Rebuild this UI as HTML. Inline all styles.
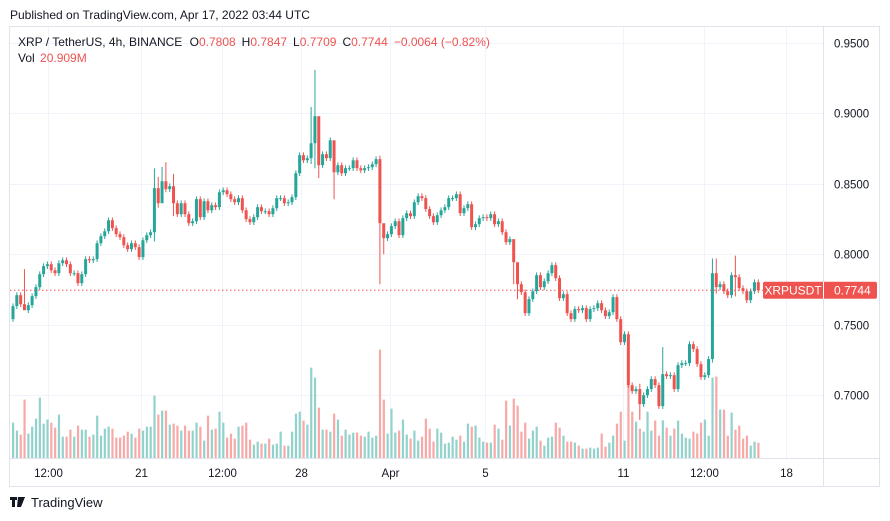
<!DOCTYPE html>
<html><head><meta charset="utf-8"><style>
body{margin:0;background:#fff;width:890px;height:521px;overflow:hidden;font-family:"Liberation Sans",sans-serif;}
svg{position:absolute;left:0;top:0}
</style></head><body>
<svg id="c" width="890" height="521" xmlns="http://www.w3.org/2000/svg">
<text x="10" y="19" font-size="12" fill="#131722">Published on TradingView.com, Apr 17, 2022 03:44 UTC</text>
<rect x="9.5" y="26.5" width="870" height="460" fill="none" stroke="#e0e3eb"/>
<line x1="823.5" y1="27" x2="823.5" y2="486" stroke="#e0e3eb"/>
<line x1="10" y1="458.5" x2="879" y2="458.5" stroke="#e0e3eb"/>
<g id="grid"></g><g id="vol"></g><g id="candles"></g><g id="axes"></g>
<g font-size="12">
<text x="18" y="46" fill="#131722">XRP / TetherUS, 4h, BINANCE <tspan dx="4">O</tspan><tspan fill="#ef5350">0.7808</tspan><tspan dx="6">H</tspan><tspan fill="#ef5350">0.7847</tspan><tspan dx="6">L</tspan><tspan fill="#ef5350">0.7709</tspan><tspan dx="6">C</tspan><tspan fill="#ef5350">0.7744</tspan><tspan dx="6" fill="#ef5350">−0.0064 (−0.82%)</tspan></text>
<text x="18" y="62" fill="#131722">Vol <tspan dx="2" fill="#ef5350">20.909M</tspan></text>
</g>
<g>
<rect x="10" y="497" width="7" height="3" fill="#131722"/><rect x="12" y="497" width="3" height="10" fill="#131722"/>
<polygon points="18,497 25,497 21,507 17,507" fill="#131722"/>
<text x="31" y="507" font-size="13" fill="#131722">TradingView</text>
</g>
</svg>
<script>
const closes=[0.7631,0.7709,0.7645,0.7602,0.7638,0.7702,0.7766,0.7858,0.7915,0.7929,0.7886,0.7865,0.7936,0.7957,0.7929,0.7865,0.7865,0.7794,0.7858,0.7965,0.7957,0.7965,0.8078,0.8128,0.8163,0.8241,0.8185,0.8142,0.8121,0.8064,0.8036,0.8078,0.8050,0.7979,
0.8099,0.8135,0.8156,0.8469,0.8362,0.8518,0.8462,0.8483,0.8362,0.8284,0.8362,0.8284,0.8220,0.8234,0.8391,0.8263,0.8376,0.8312,0.8348,0.8334,0.8440,0.8454,0.8426,0.8391,0.8369,0.8398,0.8312,0.8249,0.8227,0.8263,0.8334,0.8305,0.8305,0.8284,
0.8327,0.8398,0.8398,0.8362,0.8369,0.8405,0.8575,0.8703,0.8667,0.8682,0.8788,0.8980,0.8632,0.8710,0.8682,0.8809,0.8582,0.8632,0.8575,0.8611,0.8611,0.8667,0.8611,0.8596,0.8611,0.8618,0.8639,0.8675,0.8220,0.8114,0.8142,0.8199,
0.8234,0.8135,0.8256,0.8291,0.8270,0.8369,0.8412,0.8398,0.8320,0.8270,0.8227,0.8277,0.8312,0.8334,0.8398,0.8398,0.8426,0.8291,0.8327,0.8355,0.8192,0.8213,0.8256,0.8263,0.8256,0.8284,0.8213,0.8234,0.8156,0.8085,0.8107,0.7943,0.7787,
0.7730,0.7581,0.7681,0.7737,0.7851,0.7766,0.7808,0.7865,0.7922,0.7830,0.7688,0.7716,0.7581,0.7539,0.7610,0.7602,0.7617,0.7539,0.7610,0.7617,0.7652,0.7602,0.7560,0.7588,0.7695,0.7539,0.7375,0.7432,0.7070,0.7027,0.7042,0.6935,0.6999,
0.7042,0.7113,0.7070,0.6921,0.7148,0.7134,0.7141,0.7042,0.7212,0.7226,0.7226,0.7361,0.7326,0.7219,0.7127,0.7141,0.7255,0.7865,0.7766,0.7787,0.7737,0.7709,0.7851,0.7837,0.7759,0.7737,0.7673,0.7737,0.7801,0.7744];
const firstOpen=0.7539;
const volumes=[48.4,37.5,32.0,80.0,33.4,43.0,53.9,82.7,47.1,52.6,48.4,41.6,59.4,29.2,29.2,38.8,29.2,44.3,38.8,38.8,29.2,32.0,58.0,30.6,40.2,43.0,40.2,27.9,27.9,30.6,36.1,33.4,27.9,40.2,37.5,43.0,43.0,85.5,59.4,64.9,64.9,45.7,47.1,44.3,37.5,44.3,37.5,37.5,48.4,43.0,23.8,58.0,38.8,40.2,63.5,48.4,27.9,33.4,26.5,43.0,44.3,48.4,25.1,18.3,22.4,19.7,19.7,26.5,18.3,19.7,36.1,16.9,16.9,36.1,60.8,63.5,51.2,45.7,123.8,110.1,69.0,38.8,38.8,36.1,60.8,52.6,30.6,38.8,32.0,34.7,34.7,30.6,29.2,36.1,27.9,30.6,148.5,80.0,33.4,67.6,
34.7,37.5,52.6,32.0,26.5,37.5,23.8,29.2,53.9,40.2,22.4,40.2,34.7,19.7,21.0,29.2,25.1,30.6,22.4,47.1,43.0,44.3,27.9,22.4,21.0,21.0,45.7,40.2,25.1,78.6,44.3,81.3,71.7,36.1,48.4,26.5,37.5,43.0,23.8,16.9,27.9,29.2,48.4,41.6,30.6,22.4,22.4,21.0,16.9,12.8,12.8,14.2,12.8,14.2,33.4,15.5,21.0,30.6,47.1,63.5,23.8,107.4,63.5,49.8,40.2,36.1,63.5,37.5,51.2,30.6,51.6,41.6,30.6,40.2,51.2,33.4,27.9,26.5,36.1,33.4,48.4,52.6,30.6,110.1,111.5,66.3,66.3,30.6,62.2,38.8,44.3,26.5,30.6,16.9,22.4,20.9];
// notable wicks: candle number (1-based) -> [high, low]
const wickHighIdx=[4,38,39,40,41,43,79,80,81,85,97,98,132,133,165,171,184,185,190];
const wickHighs=[0.7894,0.8610,0.8550,0.8620,0.8653,0.8570,0.9046,0.9309,0.8660,0.8650,0.8700,0.8160,0.8000,0.7870,0.7080,0.7340,0.7970,0.7970,0.7990];
const wickLows=[0.7620,0.8090,0.8330,0.8400,0.8440,0.8270,0.8640,0.8610,0.8540,0.8390,0.7787,0.8000,0.7787,0.7680,0.6823,0.6900,0.7230,0.7720,0.7700];
const priceTicks=[0.95,0.90,0.85,0.80,0.75,0.70];
const timeLabels=['12:00','21','12:00','28','Apr','5','11','12:00','18'];
const timeIdx=[9.2,33.5,54.7,75.4,98.6,123.5,159.6,180.8,202.2];

const NS='http://www.w3.org/2000/svg';
const X0=13,DX=3.822;
function xOf(i){return X0+i*DX;}
function yOf(p){return 43+(0.95-p)*1408;}
function vY(v){return 458-v/1.37;}
function mk(tag,attrs,parent){const e=document.createElementNS(NS,tag);for(const k in attrs)e.setAttribute(k,attrs[k]);parent.appendChild(e);return e;}
const G=document.getElementById('grid'),V=document.getElementById('vol'),C=document.getElementById('candles'),A=document.getElementById('axes');
priceTicks.forEach(p=>{const y=Math.round(yOf(p))+0.5;
 const l=mk('line',{x1:10,x2:823,y1:y,y2:y,stroke:'#f0f3fa'},G);
 
 
 const t=mk('text',{x:834,y:y+4,'font-size':11.5,fill:'#131722'},A);t.textContent=p.toFixed(4);
 
 
});
timeLabels.forEach((s,k)=>{const x=Math.round(xOf(timeIdx[k]))+0.5;
 const l=mk('line',{x1:x,x2:x,y1:27,y2:458,stroke:'#f0f3fa'},G);
 
 
 const t=mk('text',{x:x,y:477,'font-size':11.5,fill:'#131722','text-anchor':'middle'},A);t.textContent=s;
 
 
});
closes.forEach((c,i)=>{
 const o=i===0?firstOpen:closes[i-1];const up=c>=o;const col=up?'#26a69a':'#ef5350';
 const wi=wickHighIdx.indexOf(i+1);
 const hi=wi>=0?wickHighs[wi]:Math.max(o,c)+0.002, lo=wi>=0?wickLows[wi]:Math.min(o,c)-0.002;
 const x=xOf(i);
 const vb=mk('rect',{x:x-1,y:vY(volumes[i]),width:2.2,height:458-vY(volumes[i]),fill:up?'#92d2cc':'#f7a9a7'},V);
 
 
 const w=mk('line',{x1:x,x2:x,y1:yOf(hi),y2:yOf(lo),stroke:col,'stroke-width':1},C);
 
 
 const yt=yOf(Math.max(o,c)),yb=yOf(Math.min(o,c));
 const b=mk('rect',{x:x-1.5,y:yt,width:3,height:Math.max(1,yb-yt),fill:col},C);
 
 
});
const last=closes[closes.length-1];const ly=yOf(last);
const dl=mk('line',{x1:10,x2:823,y1:ly,y2:ly,stroke:'#ef5350','stroke-dasharray':'1.5,2.5','stroke-width':1},A);


const lb=mk('rect',{x:763,y:ly-8.5,width:114,height:17,rx:2,fill:'#ef5350'},A);


mk('line',{x1:823.5,x2:823.5,y1:ly-8.5,y2:ly+8.5,stroke:'#fff'},A);
const t1=mk('text',{x:793,y:ly+4.5,'font-size':12,fill:'#fff','text-anchor':'middle'},A);t1.textContent='XRPUSDT';


const t2=mk('text',{x:834,y:ly+4.5,'font-size':12,fill:'#fff'},A);t2.textContent=last.toFixed(4);


</script>
</body></html>
